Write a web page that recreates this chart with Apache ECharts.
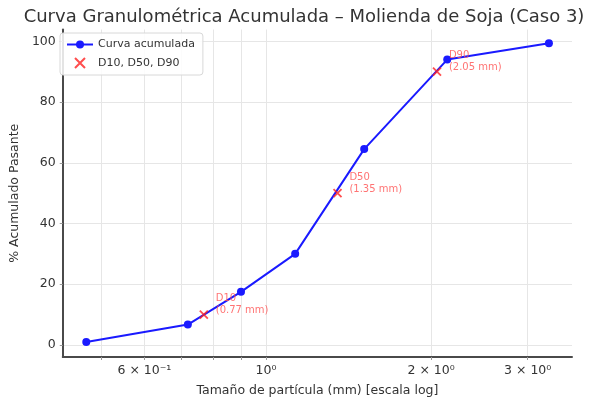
<!DOCTYPE html>
<html>
<head>
<meta charset="utf-8">
<script src="https://cdn.jsdelivr.net/npm/echarts@6/dist/echarts.min.js"></script>
<style>
  html, body { margin: 0; padding: 0; background: #fff; }
  #chart { width: 606px; height: 402px; }
</style>
</head>
<body>
<div id="chart"></div>
<script>
// Sieve sizes (mm) and cumulative % passing
const sizes = [0.47, 0.72, 0.90, 1.13, 1.51, 2.14, 3.28];
const passing = [1, 6.7, 17.5, 30, 64.5, 94, 99.4];

// Characteristic diameters
const dNames = ['D10', 'D50', 'D90'];
const dSizes = [0.77, 1.35, 2.05];
const dPct = [10, 50, 90];

// Axis ticks
const xGridTicks = [0.5, 0.6, 0.7, 0.8, 0.9, 1, 2, 3];
const xLabelTicks = [0.6, 1, 2, 3];
const yTicks = [0, 20, 40, 60, 80, 100];

const sup = { '0': '⁰', '1': '¹', '-': '⁻' };
function logLabel(v) {
  const e = Math.floor(Math.log10(v) + 1e-9);
  const m = Math.round(v / Math.pow(10, e));
  const es = String(e).split('').map(c => sup[c] || c).join('');
  return m === 1 ? '10' + es : m + ' × 10' + es;
}

const FONT = 'DejaVu Sans';
const chart = echarts.init(document.getElementById('chart'), null, { renderer: 'canvas' });
chart.setOption({
  animation: false,
  backgroundColor: '#fff',
  textStyle: { fontFamily: FONT },
  title: {
    text: 'Curva Granulométrica Acumulada – Molienda de Soja (Caso 3)',
    left: 299, top: 3, textAlign: 'center',
    textStyle: { fontFamily: FONT, fontSize: 18, fontWeight: 'normal', color: '#333' }
  },
  legend: {
    left: 60, top: 33,
    orient: 'vertical',
    itemGap: 7,
    itemWidth: 26, itemHeight: 10,
    padding: [6, 8, 6, 6],
    borderColor: '#d8d8d8', borderWidth: 1, borderRadius: 3,
    backgroundColor: 'rgba(255,255,255,0.85)',
    textStyle: { fontFamily: FONT, fontSize: 11, color: '#333' },
    data: ['Curva acumulada', 'D10, D50, D90']
  },
  grid: { left: 58, right: 34, top: 29.5, bottom: 39.7 },
  xAxis: {
    type: 'log',
    min: 0.4258, max: 3.614,
    name: 'Tamaño de partícula (mm) [escala log]',
    nameLocation: 'middle', nameGap: 27,
    nameTextStyle: { fontFamily: FONT, fontSize: 12.5, color: '#333' },
    axisLine: { onZero: false, lineStyle: { color: '#4a4a4a', width: 2 } },
    axisTick: { customValues: xGridTicks, length: 3, lineStyle: { color: '#999' } },
    axisLabel: {
      customValues: xLabelTicks, formatter: v => logLabel(v),
      fontFamily: FONT, fontSize: 12.5, color: '#333', margin: 7
    },
    splitLine: { show: true, lineStyle: { color: '#e6e6e6', width: 1 } },
    minorTick: { show: false }
  },
  yAxis: {
    type: 'value',
    min: -3.97, max: 103.9,
    name: '% Acumulado Pasante',
    nameLocation: 'middle', nameGap: 36,
    nameTextStyle: { fontFamily: FONT, fontSize: 12.5, color: '#333' },
    axisLine: { show: true, lineStyle: { color: '#4a4a4a', width: 2 } },
    axisTick: { show: true, customValues: yTicks, length: 3, lineStyle: { color: '#999' } },
    axisLabel: { customValues: yTicks, fontFamily: FONT, fontSize: 12.5, color: '#333', margin: 7 },
    splitLine: { show: true, lineStyle: { color: '#e6e6e6', width: 1 } }
  },
  series: [
    {
      name: 'Curva acumulada',
      type: 'line',
      data: sizes.map((s, i) => [s, passing[i]]),
      symbol: 'circle', symbolSize: 8,
      lineStyle: { color: '#1a1aff', width: 2 },
      itemStyle: { color: '#1a1aff' },
      z: 2
    },
    {
      name: 'D10, D50, D90',
      type: 'scatter',
      data: dSizes.map((s, i) => ({ name: dNames[i], value: [s, dPct[i]] })),
      symbol: 'path://M0 0L10 10M10 0L0 10',
      symbolSize: 8,
      itemStyle: { color: 'transparent', borderColor: '#ff2020', borderWidth: 1.8 },
      label: {
        show: true,
        position: 'right',
        distance: 7,
        offset: [0, -10],
        align: 'left',
        lineHeight: 12,
        fontFamily: FONT, fontSize: 10, color: '#ff5050',
        formatter: p => p.name + '\n(' + p.value[0].toFixed(2) + ' mm)'
      },
      z: 3
    }
  ]
});
</script>
</body>
</html>
